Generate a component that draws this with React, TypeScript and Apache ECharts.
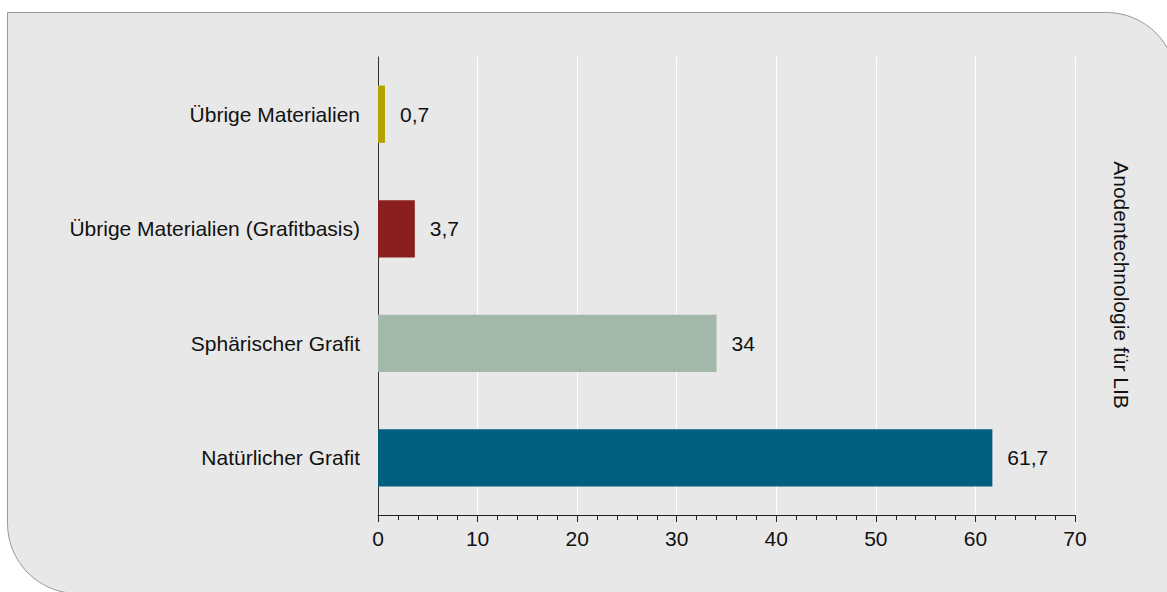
import React, { useEffect, useRef } from "react";
import * as echarts from "echarts";

const categories = [
  "Natürlicher Grafit",
  "Sphärischer Grafit",
  "Übrige Materialien (Grafitbasis)",
  "Übrige Materialien",
];
const values = [61.7, 34, 3.7, 0.7];
const colors = ["#005f7f", "#a3b8ab", "#8b1f1f", "#b3a200"];
const axisTitle = "Anodentechnologie für LIB";

export default function App() {
  const ref = useRef<HTMLDivElement>(null);
  useEffect(() => {
    const chart = echarts.init(ref.current!, null, { renderer: "svg" });
    const font = "'Liberation Sans', Arial, sans-serif";
    const fs = 21;
    chart.setOption({
      animation: false,
      textStyle: { fontFamily: font },
      graphic: [
        {
          type: "rect",
          z: -10,
          shape: { x: 7.5, y: 12.5, width: 1169, height: 581, r: [0, 70, 0, 70] },
          style: { fill: "#e8e8e8", stroke: "#999999", lineWidth: 1 },
        },
        {
          type: "text",
          x: 1121,
          y: 285,
          rotation: -Math.PI / 2,
          style: {
            text: axisTitle,
            fontSize: fs,
            fontFamily: font,
            fill: "#111",
            align: "center",
            verticalAlign: "middle",
          },
        },
      ],
      grid: { left: 378, right: 92, top: 57, height: 458, containLabel: false },
      xAxis: {
        type: "value",
        min: 0,
        max: 70,
        interval: 10,
        axisLine: { show: true, lineStyle: { color: "#222", width: 1 } },
        axisTick: { show: true, length: 7, lineStyle: { color: "#222" } },
        minorTick: { show: true, splitNumber: 5, length: 5, lineStyle: { color: "#222" } },
        splitLine: { show: true, lineStyle: { color: "#ffffff", width: 1 } },
        axisLabel: { fontSize: fs, color: "#111", margin: 13, fontFamily: font },
      },
      yAxis: {
        type: "category",
        data: categories,
        axisLine: { show: true, lineStyle: { color: "#333", width: 1 } },
        axisTick: { show: false },
        axisLabel: { fontSize: fs, color: "#111", margin: 18, fontFamily: font },
      },
      series: [
        {
          type: "bar",
          barCategoryGap: "50%",
          data: values.map((v, i) => ({ value: v, itemStyle: { color: colors[i] } })),
          label: {
            show: true,
            position: "right",
            distance: 15,
            fontSize: fs,
            color: "#111",
            fontFamily: font,
            formatter: (p: any) => String(p.value).replace(".", ","),
          },
        },
      ],
    });
    return () => chart.dispose();
  }, []);
  return <div ref={ref} style={{ width: 1167, height: 592, position: "absolute", left: 0, top: 0 }} />;
}
